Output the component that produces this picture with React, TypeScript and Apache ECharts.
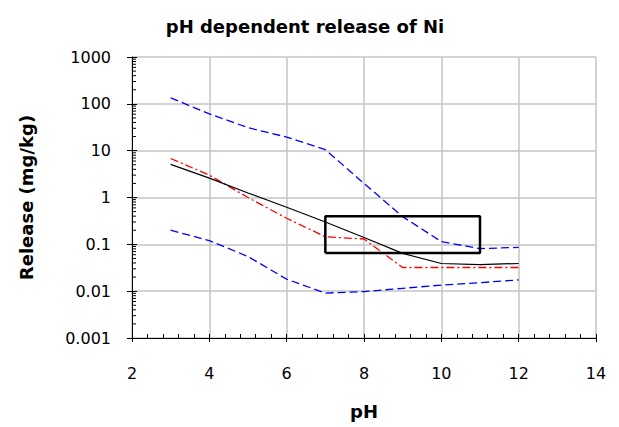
import React, { useEffect, useRef } from "react";
import * as echarts from "echarts";

const pH = [3, 4, 5, 6, 7, 8, 9, 10, 11, 12];
const upperBound = [134, 61, 31, 19.5, 10.5, 2.0, 0.39, 0.114, 0.081, 0.086];
const lowerBound = [0.2, 0.12, 0.055, 0.018, 0.0091, 0.0098, 0.0115, 0.0135, 0.0152, 0.0174];
const measured = [5.1, 2.6, 1.25, 0.62, 0.3, 0.14, 0.064, 0.039, 0.037, 0.039];
const modelled = [6.8, 3.0, 1.0, 0.36, 0.145, 0.13, 0.032, 0.032, 0.032, 0.032];
const boxPH = [7, 7, 11, 11, 7];
const boxRelease = [0.065, 0.4, 0.4, 0.065, 0.065];
const yTickLabels = ["0.001", "0.01", "0.1", "1", "10", "100", "1000"];
const decades = [0.001, 0.01, 0.1, 1, 10, 100];
const minorMultipliers = [2, 3, 4, 5, 6, 7, 8, 9];

const pair = (xs: number[], ys: number[]) => xs.map((x, i) => [x, ys[i]]);

export default function App() {
  const ref = useRef<HTMLDivElement>(null);
  useEffect(() => {
    document.body.style.margin = "0";
    if (!ref.current) return;
    const chart = echarts.init(ref.current, null, { renderer: "svg" });
    const font = "DejaVu Sans, Verdana, sans-serif";
    const minorY: number[][] = [];
    decades.forEach((d) => minorMultipliers.forEach((m) => minorY.push([2, Number((d * m).toPrecision(2))])));
    const axisBase = {
      type: "value" as const,
      min: 2,
      max: 14,
      interval: 2,
      gridIndex: 0,
      position: "bottom" as const,
    };
    chart.setOption({
      animation: false,
      backgroundColor: "#ffffff",
      title: {
        text: "pH dependent release of Ni",
        left: 300,
        textAlign: "center",
        top: 12,
        textStyle: { fontFamily: font, fontWeight: "bold", fontSize: 18, color: "#000" },
      },
      grid: { left: 132, right: 23, top: 57, bottom: 89, containLabel: false },
      xAxis: [
        {
          ...axisBase,
          name: "pH",
          nameLocation: "middle",
          nameGap: 64,
          nameTextStyle: { fontFamily: font, fontWeight: "bold", fontSize: 18, color: "#000" },
          axisLine: { show: true, lineStyle: { color: "#000", width: 1 } },
          axisTick: { show: true, inside: false, length: 4, lineStyle: { color: "#000" } },
          axisLabel: { fontFamily: font, fontSize: 16, color: "#000", margin: 27 },
          splitLine: { show: true, lineStyle: { color: "#c4c4c4", width: 1.5 } },
        },
        {
          ...axisBase,
          axisLine: { show: true, lineStyle: { color: "#000", width: 1 } },
          axisTick: { show: true, inside: true, length: 4, lineStyle: { color: "#000" } },
          minorTick: { show: true, splitNumber: 5, length: 4, lineStyle: { color: "#000" } },
          axisLabel: { show: false },
          splitLine: { show: false },
        },
      ],
      yAxis: [
        {
          type: "log",
          logBase: 10,
          min: 0.001,
          max: 1000,
          position: "left",
          name: "Release (mg/kg)",
          nameLocation: "middle",
          nameGap: 97,
          nameTextStyle: { fontFamily: font, fontWeight: "bold", fontSize: 18, color: "#000" },
          axisLine: { show: true, lineStyle: { color: "#000", width: 1 } },
          axisTick: { show: true, inside: false, length: 5, lineStyle: { color: "#000" } },
          axisLabel: {
            fontFamily: font,
            fontSize: 16,
            color: "#000",
            margin: 21,
            formatter: (v: number) => {
              const idx = Math.round(Math.log10(v)) + 3;
              return yTickLabels[idx] ?? String(v);
            },
          },
          splitLine: { show: true, lineStyle: { color: "#c4c4c4", width: 1.5 } },
        },
        {
          type: "log",
          logBase: 10,
          min: 0.001,
          max: 1000,
          position: "left",
          axisLine: { show: false },
          axisTick: { show: true, inside: true, length: 5, lineStyle: { color: "#000" } },
          axisLabel: { show: false },
          splitLine: { show: false },
        },
      ],
      series: [
        {
          type: "line",
          data: pair(pH, upperBound),
          showSymbol: false,
          lineStyle: { color: "#0000ff", width: 1.3, type: [8, 4] },
          z: 3,
        },
        {
          type: "line",
          data: pair(pH, lowerBound),
          showSymbol: false,
          lineStyle: { color: "#0000ff", width: 1.3, type: [8, 4] },
          z: 3,
        },
        {
          type: "line",
          data: pair(pH, modelled),
          showSymbol: false,
          lineStyle: { color: "#ff0000", width: 1.3, type: [8, 3, 2, 3] },
          z: 4,
        },
        {
          type: "line",
          data: pair(pH, measured),
          showSymbol: false,
          lineStyle: { color: "#000000", width: 1.2 },
          z: 5,
        },
        {
          type: "line",
          data: pair(boxPH, boxRelease),
          showSymbol: false,
          lineStyle: { color: "#000000", width: 2.5 },
          z: 6,
        },
        {
          type: "custom",
          data: minorY,
          clip: false,
          z: 7,
          renderItem: (params: any, api: any) => {
            const p = api.coord([api.value(0), api.value(1)]);
            return {
              type: "line",
              shape: { x1: p[0], y1: p[1], x2: p[0] + 4, y2: p[1] },
              style: { stroke: "#000", lineWidth: 1 },
            };
          },
        },
      ],
    });
    return () => chart.dispose();
  }, []);
  return <div ref={ref} style={{ width: 619, height: 427 }} />;
}
